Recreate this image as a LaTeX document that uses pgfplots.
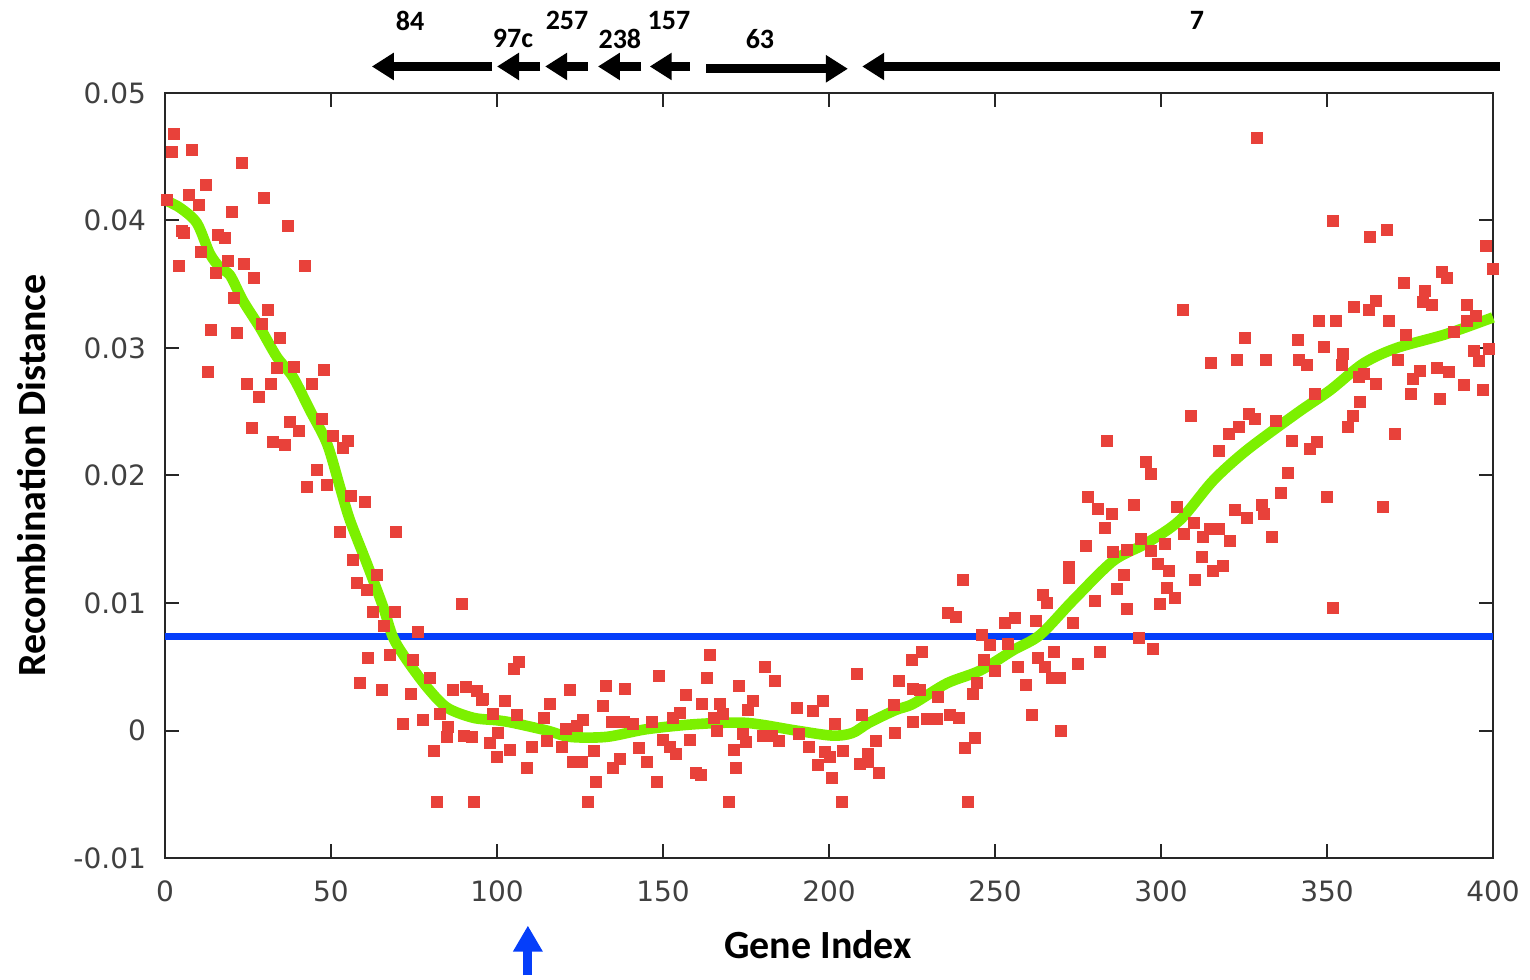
\documentclass[border=0pt]{standalone}
\usepackage{pgfplots}
\usepackage{pgfplotstable}
\pgfplotsset{compat=1.18}
\usetikzlibrary{arrows.meta}
\usepackage{fontspec}
\setmainfont{Carlito}
\newfontfamily\dejavu{DejaVu Sans}
\definecolor{ptred}{RGB}{232,65,58}
\definecolor{curvegreen}{RGB}{124,240,0}
\definecolor{lineblue}{RGB}{5,62,250}

\pgfplotstableread{
x y
2.7 0.0468
2.0 0.0454
8.2 0.0455
23.2 0.0445
12.3 0.0428
7.2 0.0420
0.5 0.0416
10.2 0.0412
29.7 0.0418
20.3 0.0407
37.0 0.0396
5.1 0.0392
5.7 0.0390
16.0 0.0389
18.1 0.0386
10.8 0.0375
4.3 0.0364
18.9 0.0368
23.9 0.0366
42.0 0.0364
15.3 0.0359
26.9 0.0355
20.8 0.0339
31.1 0.0330
29.1 0.0319
13.8 0.0314
21.7 0.0312
34.6 0.0308
13.0 0.0281
24.6 0.0272
31.9 0.0272
44.2 0.0272
38.9 0.0285
47.8 0.0283
33.6 0.0284
28.2 0.0262
26.1 0.0237
37.7 0.0242
40.2 0.0235
47.2 0.0244
32.6 0.0226
36.1 0.0224
50.7 0.0231
55.2 0.0227
53.5 0.0222
45.7 0.0204
42.7 0.0191
48.7 0.0193
55.9 0.0184
60.2 0.0179
52.7 0.0156
69.6 0.0156
56.7 0.0134
63.8 0.0122
57.9 0.0116
60.7 0.0110
62.7 0.0093
69.1 0.0093
89.4 0.0099
65.8 0.0082
76.1 0.0077
61.0 0.0057
67.8 0.0059
74.8 0.0055
58.7 0.0037
65.3 0.0032
74.0 0.0029
79.8 0.0041
86.8 0.0032
90.6 0.0034
93.9 0.0031
95.4 0.0024
71.8 0.0005
77.8 0.0008
82.8 0.0013
85.3 0.0003
84.8 -0.0005
89.9 -0.0004
92.4 -0.0005
81.1 -0.0016
97.9 -0.0010
99.9 -0.0021
82.0 -0.0056
92.9 -0.0056
98.9 0.0013
106.6 0.0054
105.1 0.0048
95.9 0.0025
102.4 0.0023
100.4 -0.0002
103.9 -0.0015
108.9 -0.0029
105.9 0.0012
110.4 -0.0013
116.0 0.0021
114.0 0.0010
122.0 0.0032
115.0 -0.0008
119.5 -0.0013
126.0 0.0008
124.0 0.0004
120.9 0.0001
122.8 -0.0025
125.5 -0.0025
129.2 -0.0016
129.8 -0.0040
127.3 -0.0056
132.8 0.0035
132.0 0.0019
134.5 0.0007
138.6 0.0033
138.1 0.0007
137.0 -0.0022
134.8 -0.0029
141.0 0.0005
142.6 -0.0014
145.0 -0.0025
148.1 -0.0040
148.8 0.0043
146.6 0.0007
150.1 -0.0007
152.1 -0.0013
153.9 -0.0018
156.8 0.0028
155.1 0.0014
153.1 0.0010
158.1 -0.0007
159.9 -0.0033
161.4 -0.0035
164.1 0.0059
163.3 0.0041
161.8 0.0021
167.0 0.0021
166.2 0.0000
165.2 0.0010
168.0 0.0013
169.9 -0.0056
172.0 -0.0029
171.4 -0.0015
172.8 0.0035
174.9 -0.0009
175.7 0.0016
177.2 0.0023
174.2 -0.0003
180.7 0.0050
183.6 0.0039
180.0 -0.0004
182.7 -0.0004
185.0 -0.0008
190.3 0.0018
193.8 -0.0013
195.1 0.0015
198.1 0.0023
191.0 -0.0003
196.8 -0.0027
198.8 -0.0017
201.0 -0.0037
204.0 -0.0056
201.8 0.0005
200.3 -0.0021
204.3 -0.0016
208.3 0.0044
209.8 0.0012
209.3 -0.0026
211.8 -0.0025
214.9 -0.0033
214.2 -0.0008
211.8 -0.0018
219.4 0.0020
219.9 -0.0002
221.2 0.0039
241.7 -0.0056
241.0 -0.0014
244.0 -0.0006
225.4 0.0007
229.4 0.0009
232.4 0.0009
236.4 0.0012
239.0 0.0010
225.4 0.0033
227.4 0.0032
224.9 0.0055
227.9 0.0062
232.9 0.0026
235.9 0.0092
238.3 0.0089
240.3 0.0118
243.3 0.0029
244.5 0.0037
246.7 0.0055
248.5 0.0067
246.0 0.0075
250.0 0.0047
253.0 0.0084
256.0 0.0088
254.0 0.0068
257.0 0.0050
259.2 0.0036
261.2 0.0012
262.2 0.0086
262.8 0.0057
264.3 0.0106
265.6 0.0100
265.0 0.0050
267.8 0.0062
267.1 0.0041
269.6 0.0041
269.9 0.0000
273.6 0.0084
275.1 0.0052
272.4 0.0128
272.4 0.0120
277.3 0.0145
281.6 0.0062
280.2 0.0102
278.1 0.0183
280.9 0.0174
285.3 0.0170
283.2 0.0159
286.6 0.0111
288.9 0.0122
289.7 0.0095
285.6 0.0140
291.9 0.0177
293.3 0.0073
297.5 0.0064
294.0 0.0150
299.7 0.0099
299.0 0.0131
302.5 0.0125
301.9 0.0112
304.2 0.0104
301.2 0.0146
304.9 0.0175
306.9 0.0154
310.2 0.0118
309.0 0.0247
283.6 0.0227
295.5 0.0211
297.0 0.0201
317.3 0.0219
320.3 0.0233
323.6 0.0238
326.6 0.0248
328.3 0.0244
334.6 0.0243
339.4 0.0227
338.2 0.0202
336.1 0.0186
322.3 0.0173
325.8 0.0167
330.3 0.0177
331.1 0.0170
333.5 0.0152
317.3 0.0158
314.8 0.0158
312.7 0.0152
320.8 0.0149
312.2 0.0136
315.7 0.0125
318.6 0.0129
309.9 0.0163
297.1 0.0141
289.7 0.0142
328.8 0.0465
351.9 0.0400
363.0 0.0387
368.0 0.0393
397.8 0.0380
400.0 0.0362
373.2 0.0351
384.7 0.0360
386.0 0.0355
379.5 0.0345
378.8 0.0336
381.7 0.0334
358.2 0.0332
364.6 0.0337
362.6 0.0330
392.0 0.0334
394.7 0.0325
392.1 0.0321
368.7 0.0321
347.7 0.0321
352.7 0.0321
306.7 0.0330
325.3 0.0308
341.2 0.0306
349.1 0.0301
373.8 0.0310
388.3 0.0313
315.0 0.0288
323.0 0.0291
331.6 0.0291
341.6 0.0291
343.9 0.0287
354.9 0.0295
354.4 0.0287
371.5 0.0291
398.8 0.0299
394.1 0.0298
395.6 0.0290
361.0 0.0280
364.7 0.0272
375.9 0.0276
378.1 0.0282
383.1 0.0284
386.8 0.0281
391.3 0.0271
397.1 0.0267
375.2 0.0264
384.0 0.0260
360.0 0.0258
357.9 0.0247
356.4 0.0238
370.3 0.0233
346.9 0.0226
344.7 0.0221
349.9 0.0183
346.4 0.0264
359.6 0.0277
366.9 0.0175
351.8 0.0096
}\redpts

\pgfplotstableread{
x y
0 0.0416
4.5 0.0410
9.6 0.0398
13.5 0.0374
16.6 0.0363
19.6 0.0357
23.5 0.0337
28.6 0.0316
33.7 0.0293
38.6 0.0277
43.7 0.0251
48.8 0.0225
52.7 0.0191
55.7 0.0165
60.8 0.0131
65.7 0.0097
68.7 0.0073
72.9 0.0055
78.9 0.0034
84.9 0.0018
92.8 0.0010
100 0.0008
104.8 0.0006
115 0.0000
122 -0.0005
133 -0.0005
145 0.0001
160 0.0005
175 0.0006
190 0.0000
201 -0.0004
207 -0.0002
212 0.0006
220 0.0016
225.4 0.0021
235.5 0.0037
245.5 0.0047
255.5 0.0063
263.6 0.0075
273.5 0.0102
285.6 0.0133
295.7 0.0147
305.7 0.0165
315.7 0.0196
325.9 0.0220
341 0.0249
351 0.0267
361 0.0288
371 0.0300
386 0.0311
400 0.0324
}\greencurve

\begin{document}
\begin{tikzpicture}
\useasboundingbox (-82.5pt,-60.5pt) rectangle (682.5pt,429pt);
\begin{axis}[
  at={(0,0)}, anchor=south west,
  scale only axis,
  width=664pt, height=382.5pt,
  xmin=0, xmax=400, ymin=-0.01, ymax=0.05,
  scaled y ticks=false, scaled x ticks=false,
  clip=false,
  axis line style={line width=1pt, black!85},
  tick align=inside,
  major tick length=7pt,
  every tick/.style={line width=1pt, black!85},
  xtick={0,50,100,150,200,250,300,350,400},
  xticklabels={0,50,100,150,200,250,300,350,400},
  ytick={-0.01,0,0.01,0.02,0.03,0.04,0.05},
  yticklabels={-0.01,0,0.01,0.02,0.03,0.04,0.05},
  ticklabel style={font=\dejavu\fontsize{14}{16}\selectfont, text=black!75},
  xticklabel style={yshift=-8pt},
  yticklabel style={xshift=-6pt},
  xlabel={Gene Index},
  ylabel={Recombination Distance},
  every axis x label/.style={at={(rel axis cs:0.4917,0)}, anchor=center, yshift=-43.5pt, font=\bfseries\fontsize{20}{24}\selectfont},
  every axis y label/.style={at={(rel axis cs:0,0.5)}, anchor=center, xshift=-66.5pt, rotate=90, font=\bfseries\fontsize{20}{24}\selectfont},
]
\addplot[only marks, mark=square*, mark size=2.75pt, color=ptred, mark options={draw=none, fill=ptred}] table[x=x,y=y] {\redpts};
\addplot[lineblue, line width=3.3pt, no marks] coordinates {(0,0.00737) (400,0.00737)};
\addplot[curvegreen, line width=5.3pt, no marks, smooth] table[x=x,y=y] {\greencurve};

% gene arrows above the plot
\begin{scope}[line width=4.5pt, black, arrows={-{Triangle[width=13pt,length=11pt]}}]
\draw (axis cs:98.5,0.05208) -- (axis cs:62.3,0.05208);
\draw (axis cs:113,0.05208) -- (axis cs:100,0.05208);
\draw (axis cs:127.4,0.05208) -- (axis cs:114.5,0.05208);
\draw (axis cs:143.4,0.05208) -- (axis cs:130.4,0.05208);
\draw (axis cs:158.1,0.05208) -- (axis cs:146,0.05208);
\draw (axis cs:163,0.0519) -- (axis cs:205.7,0.0519);
\draw (axis cs:402.1,0.05208) -- (axis cs:210,0.05208);
\end{scope}
\begin{scope}[every node/.style={font=\bfseries\fontsize{14}{16}\selectfont, anchor=center}]
\node at (axis cs:73.8,0.05569) {84};
\node at (axis cs:104.8,0.05427) {97c};
\node at (axis cs:121.1,0.05569) {257};
\node at (axis cs:137,0.05427) {238};
\node at (axis cs:151.8,0.05569) {157};
\node at (axis cs:179.2,0.05427) {63};
\node at (axis cs:310.8,0.05569) {7};
\end{scope}
\draw[lineblue, line width=4.5pt, -{Triangle[width=14pt,length=13pt]}] (axis cs:109.3,-0.0192) -- (axis cs:109.3,-0.0153);
\end{axis}
\end{tikzpicture}
\end{document}
